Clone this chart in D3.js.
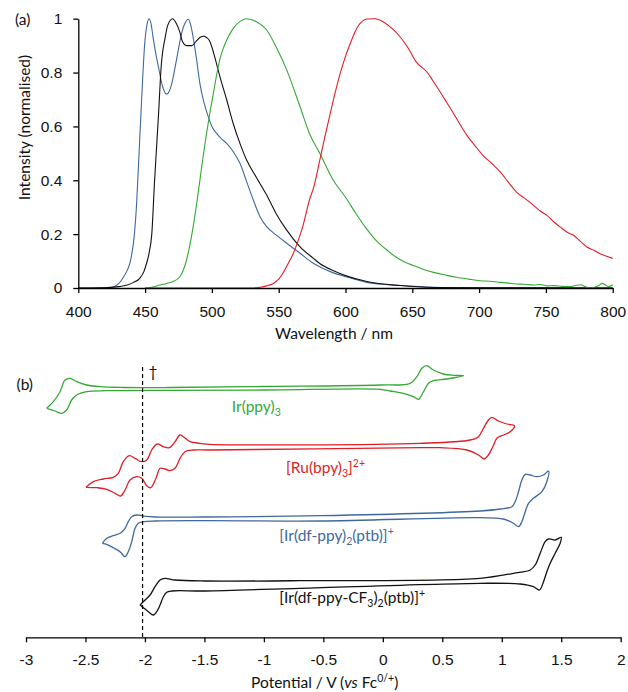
<!DOCTYPE html>
<html lang="en">
<head>
<meta charset="UTF-8">
<title>Emission spectra and CVs</title>
<script src="https://d3js.org/d3.v7.min.js"></script>
<style>
 body {margin: 0; padding: 0; background: #fff;}
 svg {display: block; font-family: Lato, "Liberation Sans", sans-serif;}
 .axis path, .axis line {stroke: #000; stroke-width: 1.3px;}
 .axis text {font-size: 15.5px; fill: #111;}
 .title {font-size: 15.5px; fill: #111;}
 .spec {fill: none; stroke-width: 1.1px;}
 .cv {fill: none; stroke-width: 1.3px;}
</style>
</head>
<body>
<svg id="chart" width="628" height="692"></svg>
<script>
// ---- (a) emission spectra, [wavelength nm, normalised intensity]
const specBlue = [[400,0],[425,0.003],[430,0.015],[434,0.042],[437,0.07],[439,0.1],[442,0.2],[443.5,0.3],[445,0.45],
  [447.4,0.7],[449.9,0.92],[451.5,0.98],[453,1],[454.5,0.98],[456,0.93],[458,0.87],[460,0.82],[463,0.75],[466,0.72],
  [468,0.73],[470,0.76],[473.6,0.85],[477.3,0.945],[480,0.985],[482.3,0.998],[484,0.98],[486,0.93],[488.5,0.85],[491,0.76],
  [494,0.69],[497,0.64],[500,0.6],[503.5,0.574],[507,0.555],[511,0.537],[516,0.506],[521,0.463],[526,0.395],[531,0.327],
  [536,0.265],[541,0.228],[548,0.197],[556,0.166],[566,0.129],[575,0.095],[581,0.078],[590,0.058],[600,0.042],[616,0.021],
  [630,0.013],[641,0.009],[666,0.003],[700,0.001],[800,0]];
const specBlack = [[400,0],[420,0.001],[430,0.005],[436,0.01],[441,0.02],[446,0.036],[449,0.06],[451,0.09],[453,0.13],
  [455,0.2],[457,0.39],[460,0.64],[462,0.82],[465,0.93],[467,0.976],[470.6,1],[473.6,0.98],[476,0.95],[478,0.915],[481,0.9],
  [485,0.9],[488,0.915],[491,0.93],[494,0.935],[496,0.93],[498,0.92],[500,0.895],[502,0.86],[506,0.785],[511,0.7],[516,0.61],
  [521,0.537],[526,0.475],[533,0.413],[541,0.345],[548,0.277],[556,0.215],[566,0.153],[576,0.11],[581,0.09],[591,0.064],
  [600,0.046],[616,0.024],[641,0.009],[666,0.002],[700,0.001],[800,0]];
const specGreen = [[450,0],[455,0.003],[461,0.011],[466,0.017],[471,0.024],[476,0.042],[478.5,0.065],[481,0.104],[483.5,0.16],
  [486,0.228],[488.5,0.31],[491,0.4],[493.5,0.49],[496,0.574],[498.5,0.65],[501,0.72],[503.5,0.79],[506,0.85],[508.5,0.89],
  [511,0.92],[516,0.964],[521,0.99],[526,1],[533,0.99],[541,0.958],[548,0.896],[556,0.81],[566,0.673],[573,0.574],[581,0.498],
  [591,0.399],[600,0.337],[608,0.275],[615,0.225],[623,0.176],[630,0.145],[638,0.114],[645,0.095],[651,0.083],[658,0.07],
  [666,0.058],[675,0.048],[683,0.04],[692,0.033],[701,0.027],[708,0.025],[716,0.021],[722,0.018],[728,0.015],[734,0.014],
  [741,0.011],[746,0.013],[751,0.008],[756,0.009],[762,0.006],[768,0.005],[772,0.009],[776,0.012],[780,0.004],[783,0],
  [787,0.004],[790,0.01],[792,0.017],[795,0.01],[797,0.005],[800,0.012]];
const specRed = [[450,0],[530,0],[536,0.003],[541,0.008],[546,0.017],[550,0.033],[553,0.054],[557,0.09],[561,0.129],
  [564.5,0.175],[568,0.228],[573.6,0.337],[576,0.37],[581,0.48],[584.5,0.56],[588.5,0.647],[592,0.72],[596,0.796],[600,0.86],
  [603.5,0.907],[607,0.95],[609.7,0.975],[613,0.992],[616,0.999],[622,1],[628.4,0.988],[635,0.963],[641,0.932],[647,0.89],
  [653,0.839],[661,0.802],[666,0.765],[671,0.727],[676,0.687],[681,0.647],[686,0.605],[691,0.566],[697,0.528],[703,0.492],
  [710,0.46],[716,0.43],[722,0.392],[728,0.356],[735,0.33],[741,0.306],[746,0.285],[751,0.269],[756,0.245],[761,0.225],
  [766,0.207],[771,0.195],[776,0.172],[781,0.151],[786,0.14],[791,0.126],[796,0.117],[800,0.11]];
const wlTicks = [400, 450, 500, 550, 600, 650, 700, 750, 800];
const intTicks = [0, 0.2, 0.4, 0.6, 0.8, 1];

// ---- (b) cyclic voltammograms, [E / V vs Fc, current (arb.)] relative to each trace baseline
const cvGreenUp = [[-2.826,-20.3],[-2.77,-13.7],[-2.714,-3.7],[-2.672,8],[-2.63,9.7],[-2.574,6.3],[-2.489,3],[-2.378,1.3],
  [-2.182,0.5],[-1.789,0.5],[-1.0,1.5],[-0.023,3],[0.23,4.7],[0.286,11.3],[0.328,19.7],[0.37,22.3],[0.426,18],[0.51,14],
  [0.594,12.7],[0.678,12.3]];
const cvGreenDown = [[0.538,9],[0.426,7.3],[0.384,4.7],[0.342,-3.7],[0.3,-11.3],[0.257,-8.7],[0.173,-5.3],[0.061,-3],
  [-0.023,-1.3],[-1.0,-2],[-1.789,-2.3],[-2.321,-2.7],[-2.489,-3.7],[-2.574,-7],[-2.616,-12],[-2.658,-22],[-2.7,-25.3],[-2.756,-23]];
const cvRedUp = [[-2.495,-39.3],[-2.434,-33.7],[-2.35,-31],[-2.266,-29.3],[-2.224,-25.3],[-2.182,-13.7],[-2.131,-7.7],
  [-2.083,-10.3],[-2.027,-13.7],[-1.985,-12],[-1.943,-2],[-1.896,4],[-1.845,1.3],[-1.795,0.3],[-1.747,6.3],[-1.705,13],
  [-1.677,11.3],[-1.621,6.3],[-1.537,4.7],[-1.452,3.7],[0.314,4.7],[0.734,8],[0.804,11.3],[0.846,19.7],[0.888,28],[0.917,30.7],
  [0.972,27],[1.043,24],[1.107,22.3]];
const cvRedDown = [[1.071,16.3],[1.001,12.3],[0.959,9.7],[0.925,1.3],[0.888,-7],[0.852,-11],[0.804,-7],[0.707,-2],[0.482,0.3],
  [0.314,0.3],[-1.452,-2],[-1.593,-2],[-1.663,-3.7],[-1.705,-10.3],[-1.747,-20.3],[-1.789,-22.7],[-1.831,-21],[-1.873,-20.3],
  [-1.907,-30.3],[-1.951,-39.7],[-1.985,-37.7],[-2.027,-30.3],[-2.069,-28.7],[-2.125,-32],[-2.167,-42],[-2.204,-48],
  [-2.251,-45.3],[-2.321,-41.3],[-2.405,-39.7]];
const cvBlueUp = [[-2.358,-25.3],[-2.321,-20.3],[-2.266,-17.7],[-2.209,-15.3],[-2.167,-10.3],[-2.14,-3.7],[-2.111,1.3],
  [-2.069,3],[-2.013,2],[-1.915,1],[-1.495,1],[-0.527,2.3],[0.818,7],[0.987,9],[1.085,11.3],[1.113,16.3],[1.141,26.3],
  [1.169,38],[1.197,43.7],[1.239,43],[1.295,41.3],[1.351,43],[1.393,47]];
const cvBlueDown = [[1.379,36.3],[1.337,26.3],[1.266,19.7],[1.225,14.7],[1.197,6.3],[1.169,-3.7],[1.141,-8.7],[1.099,-5.3],
  [1.014,-1],[0.818,0.3],[-0.527,-3],[-1.495,-2.7],[-1.915,-3],[-2.013,-3.7],[-2.056,-5.3],[-2.083,-10.3],[-2.111,-23.7],
  [-2.14,-33.7],[-2.167,-38.7],[-2.209,-33.7],[-2.266,-29.7],[-2.321,-26.3]];
const cvBlackUp = [[-2.041,-22],[-1.999,-17],[-1.957,-12],[-1.915,-3.7],[-1.873,3],[-1.831,4.7],[-1.747,3],[-1.495,2],
  [-0.696,2.3],[0.818,4.7],[1.098,9.7],[1.239,13],[1.281,18],[1.323,29.7],[1.365,41.3],[1.393,44],[1.449,43],[1.5,45.7]];
const cvBlackDown = [[1.491,39.7],[1.449,29.7],[1.407,19.7],[1.379,11.3],[1.351,1.3],[1.317,-7],[1.266,-3.7],[1.155,-1],
  [0.818,-0.3],[-0.696,-5.3],[-1.495,-8],[-1.775,-8],[-1.817,-9.3],[-1.845,-13.7],[-1.873,-22],[-1.901,-28.7],[-1.929,-32],
  [-1.971,-28.7],[-2.013,-24.7]];
const cvOffsets = [0, -60, -130, -195];
const potTicks = [-3, -2.5, -2, -1.5, -1, -0.5, 0, 0.5, 1, 1.5, 2];
const daggerE = -2.02;

const colors = {green: '#35a834', red: '#e01e25', blue: '#3f689e', black: '#111'};

const svg = d3.select('#chart');

// ================= (a) =================
const x1 = d3.scaleLinear().domain([400, 800]).range([78.3, 612.7]);
const y1 = d3.scaleLinear().domain([0, 1]).range([288, 18.7]);

const line1 = d3.line().x(d => x1(d[0])).y(d => y1(d[1])).curve(d3.curveMonotoneX);
[[specBlue, colors.blue], [specBlack, colors.black], [specGreen, colors.green], [specRed, colors.red]].forEach(([s, c]) => {
  svg.append('path').attr('class', 'spec').attr('d', line1(s)).attr('stroke', c);
});

svg.append('g').attr('class', 'axis').attr('transform', `translate(0,${y1(0)})`)
  .call(d3.axisBottom(x1).tickValues(wlTicks).tickFormat(d => d).tickSize(5).tickSizeOuter(0).tickPadding(12.5))
  .call(g => g.selectAll('text').attr('font-family', null).attr('font-size', null));
svg.append('g').attr('class', 'axis').attr('transform', `translate(${x1(400)},0)`)
  .call(d3.axisLeft(y1).tickValues(intTicks).tickFormat(d => String(d)).tickSize(5).tickSizeOuter(0).tickPadding(11))
  .call(g => g.selectAll('text').attr('font-family', null).attr('font-size', null));

svg.append('text').attr('class', 'title').attr('x', 334).attr('y', 339).attr('text-anchor', 'middle').text('Wavelength / nm');
svg.append('text').attr('class', 'title').attr('transform', 'translate(30,127.5) rotate(-90)')
  .attr('text-anchor', 'middle').text('Intensity (normalised)');
svg.append('text').attr('class', 'title').attr('x', 15).attr('y', 24.5).text('(a)');

// ================= (b) =================
const x2 = d3.scaleLinear().domain([-3, 2]).range([26, 620.7]);
const y2 = d3.scaleLinear().domain([-250, 25]).range([638, 363]);

const cvs = [
  {up: cvGreenUp, down: cvGreenDown, color: colors.green},
  {up: cvRedUp, down: cvRedDown, color: colors.red},
  {up: cvBlueUp, down: cvBlueDown, color: colors.blue},
  {up: cvBlackUp, down: cvBlackDown, color: colors.black}
];
cvs.forEach((cv, i) => {
  const off = cvOffsets[i];
  const pts = cv.up.concat(cv.down, [cv.up[0]]);
  const line2 = d3.line().x(d => x2(d[0])).y(d => y2(d[1] + off)).curve(d3.curveCatmullRom.alpha(0.5));
  svg.append('path').attr('class', 'cv').attr('d', line2(pts)).attr('stroke', cv.color);
});

// dagger reference line
svg.append('line').attr('x1', x2(daggerE)).attr('x2', x2(daggerE)).attr('y1', y2(21)).attr('y2', y2(-249))
  .attr('stroke', '#000').attr('stroke-width', 1.2).attr('stroke-dasharray', '4,3');
svg.append('text').attr('class', 'title').attr('x', x2(daggerE) + 6).attr('y', 377).style('fill', '#111').text('\u2020');

svg.append('g').attr('class', 'axis').attr('transform', `translate(0,637.3)`)
  .call(d3.axisBottom(x2).tickValues(potTicks).tickFormat(d => String(d)).tickSize(5).tickSizeOuter(0).tickPadding(12))
  .call(g => g.selectAll('text').attr('font-family', null).attr('font-size', null));

// rich text helper: parts = [[text, kind]], kind: n | sub | sup | it
function rich(x, y, parts, color, anchor) {
  const t = svg.append('text').attr('class', 'title').attr('x', x).attr('y', y)
    .style('fill', color).attr('text-anchor', anchor || 'start');
  let shift = 0;
  parts.forEach(([s, k]) => {
    const target = k === 'sub' ? 4 : (k === 'sup' ? -6 : 0);
    const ts = t.append('tspan').attr('dy', target - shift).text(s);
    shift = target;
    if (k === 'sub' || k === 'sup') ts.attr('font-size', '10.5px');
    if (k === 'it') ts.attr('font-style', 'italic');
  });
  return t;
}

rich(x2(-1.27), y2(-24), [['Ir(ppy)', 'n'], ['3', 'sub']], colors.green);
rich(x2(-0.813), y2(-85), [['[Ru(bpy)', 'n'], ['3', 'sub'], [']', 'n'], ['2+', 'sup']], colors.red);
rich(x2(-0.87), y2(-153), [['[Ir(df-ppy)', 'n'], ['2', 'sub'], ['(ptb)]', 'n'], ['+', 'sup']], colors.blue);
rich(x2(-0.87), y2(-215), [['[Ir(df-ppy-CF', 'n'], ['3', 'sub'], [')', 'n'], ['2', 'sub'], ['(ptb)]', 'n'], ['+', 'sup']], colors.black);

rich(324.7, 687.5, [['Potential / V (', 'n'], ['vs', 'it'], [' Fc', 'n'], ['0/+', 'sup'], [')', 'n']], '#111', 'middle');
svg.append('text').attr('class', 'title').attr('x', 16.5).attr('y', 389.5).text('(b)');
</script>
</body>
</html>
